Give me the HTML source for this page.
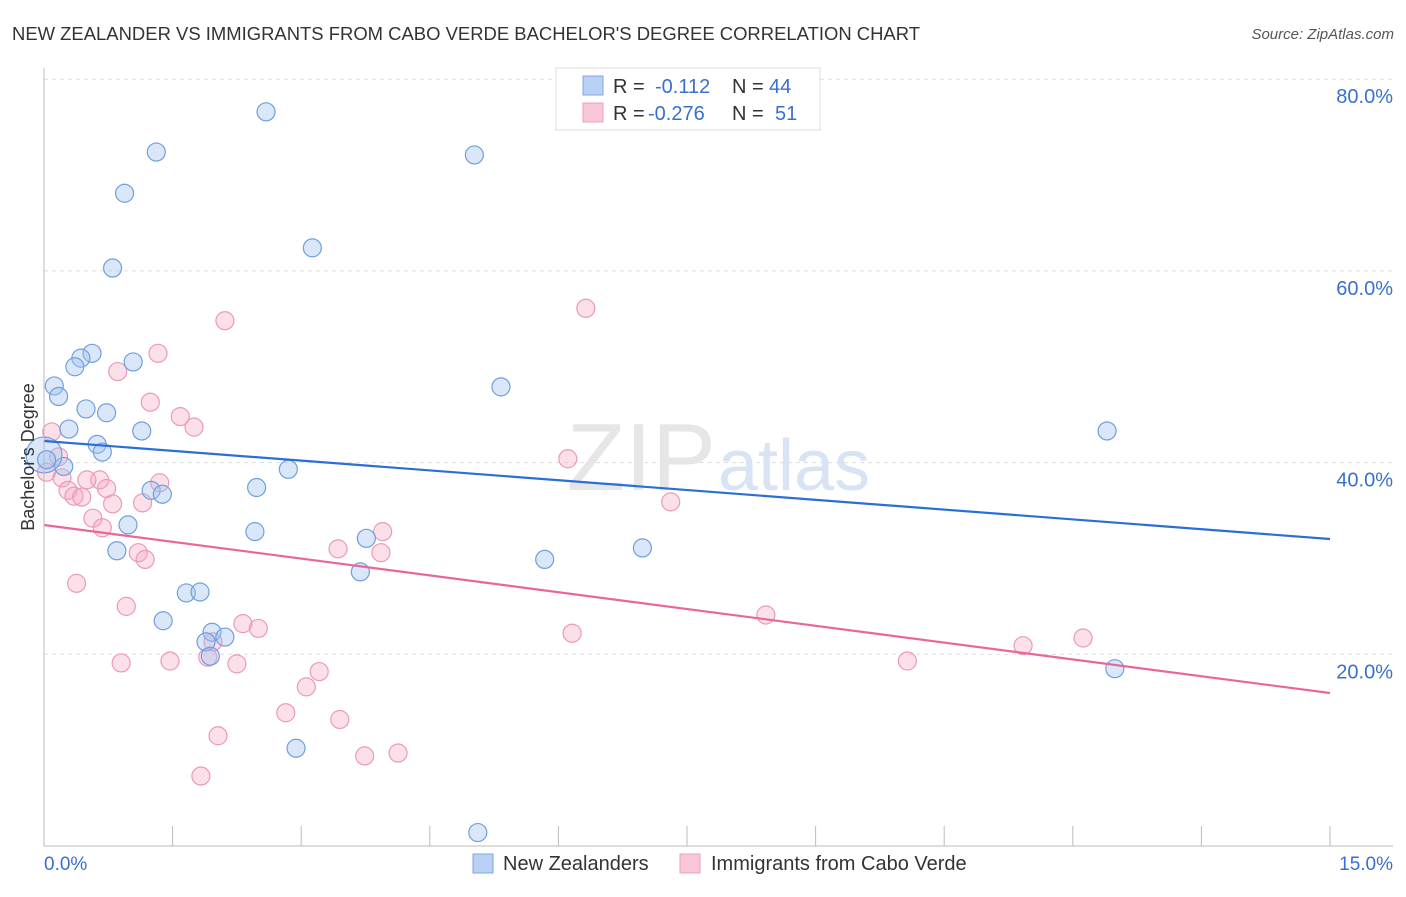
<!DOCTYPE html>
<html><head><meta charset="utf-8"><style>
body{margin:0;background:#fff;font-family:"Liberation Sans",sans-serif}
svg text{font-family:"Liberation Sans",sans-serif}
</style></head><body>
<svg width="1406" height="892" xmlns="http://www.w3.org/2000/svg">
<text x="12" y="40" font-size="18" fill="#333" textLength="908" lengthAdjust="spacingAndGlyphs">NEW ZEALANDER VS IMMIGRANTS FROM CABO VERDE BACHELOR'S DEGREE CORRELATION CHART</text>
<text x="1394" y="39" font-size="15" fill="#555" text-anchor="end" font-style="italic">Source: ZipAtlas.com</text>
<g id="grid"></g>
<text x="716" y="490" font-size="96" fill="#e6e6e6" text-anchor="end" font-family="Liberation Serif">ZIP</text>
<text x="718" y="490" font-size="72" fill="#d8e4f4">atlas</text>
<g id="pts"></g>
<g id="axes"></g>
<text x="34" y="457" font-size="18" fill="#333" text-anchor="middle" transform="rotate(-90 34 457)">Bachelor's Degree</text>
<g>
<rect x="556" y="68" width="264" height="62" fill="#fff" stroke="#ddd"/>
<rect x="583" y="76" width="20" height="19" fill="#b8d1f5" stroke="#7ea6e3"/>
<rect x="583" y="103" width="20" height="19" fill="#f9c6d6" stroke="#eda0b8"/>
<text x="613" y="93" font-size="20" fill="#333">R =</text>
<text x="655" y="93" font-size="20" fill="#3a6fd0">-0.112</text>
<text x="732" y="93" font-size="20" fill="#333">N =</text>
<text x="769" y="93" font-size="20" fill="#3a6fd0">44</text>
<text x="613" y="120" font-size="20" fill="#333">R =</text>
<text x="648" y="120" font-size="20" fill="#3a6fd0">-0.276</text>
<text x="732" y="120" font-size="20" fill="#333">N =</text>
<text x="775" y="120" font-size="20" fill="#3a6fd0">51</text>
</g>
<g>
<rect x="473" y="854" width="20" height="19" fill="#b8d1f5" stroke="#7ea6e3"/>
<text x="503" y="870" font-size="20" fill="#333">New Zealanders</text>
<rect x="680" y="854" width="20" height="19" fill="#f9c6d6" stroke="#eda0b8"/>
<text x="711" y="870" font-size="20" fill="#333">Immigrants from Cabo Verde</text>
</g>
</svg>
<script>
const blueX=[2.59,1.31,5.02,0.94,3.13,0.80,0.56,0.43,1.04,0.36,0.12,0.17,5.33,0.49,0.73,0.29,1.14,12.40,0.62,0.68,0.23,2.85,0.0,2.48,1.25,1.38,0.98,2.46,3.76,0.85,6.98,5.84,3.69,1.66,1.82,1.39,1.96,1.89,2.11,1.94,12.49,2.94,5.06,0.03];
const blueY=[76.6,72.4,72.1,68.1,62.4,60.3,51.4,50.9,50.5,50.0,48.0,46.9,47.9,45.6,45.2,43.5,43.3,43.3,41.9,41.1,39.6,39.3,40.8,37.4,37.1,36.7,33.5,32.8,32.1,30.8,31.1,29.9,28.6,26.4,26.5,23.5,22.3,21.3,21.8,19.8,18.5,10.2,1.4,40.3];
const pinkX=[2.11,6.32,1.33,0.86,1.24,1.59,1.75,0.09,0.17,6.11,0.03,0.21,0.65,0.50,1.35,0.73,0.28,0.35,0.44,0.80,1.15,7.31,0.57,0.68,3.95,3.43,3.93,1.10,1.18,0.38,0.96,2.32,2.50,8.42,6.16,12.12,11.42,1.97,0.90,1.47,1.91,2.25,10.07,3.21,3.06,2.82,3.45,2.03,3.74,4.13,1.83];
const pinkY=[54.8,56.1,51.4,49.5,46.3,44.8,43.7,43.2,40.6,40.4,39.0,38.4,38.2,38.2,37.9,37.3,37.1,36.5,36.4,35.7,35.8,35.9,34.2,33.2,32.8,31.0,30.6,30.6,29.9,27.4,25.0,23.2,22.7,24.1,22.2,21.7,20.9,21.3,19.1,19.3,19.7,19.0,19.3,18.2,16.6,13.9,13.2,11.5,9.4,9.7,7.3];
const blueTrend=[42.25,32.03];
const pinkTrend=[33.49,15.96];
const yTicks=[20,40,60,80];
const yTickLabels=["20.0%","40.0%","60.0%","80.0%"];
const xTickVals=[0,1.5,3,4.5,6,7.5,9,10.5,12,13.5,15];
const NS="http://www.w3.org/2000/svg";
const X=v=>44+v/15*1286, Y=v=>846-v/20*191.7;
function mk(t,a,p){const e=document.createElementNS(NS,t);for(const k in a)e.setAttribute(k,a[k]);p.appendChild(e);return e;}
const grid=document.getElementById('grid'),axes=document.getElementById('axes'),pts=document.getElementById('pts');
yTicks.forEach((v,i)=>{
 const l=mk('line',{x1:44,x2:1393,y1:Y(v),y2:Y(v),stroke:'#ddd','stroke-dasharray':'4,4'},grid);
 
 
 const t=mk('text',{x:1393,y:Y(v)+24,'font-size':20,fill:'#3a6fd0','text-anchor':'end'},axes);
 t.textContent=yTickLabels[i];
 
 
});
mk('line',{x1:44,x2:44,y1:68,y2:846,stroke:'#bbb'},axes);
mk('line',{x1:44,x2:1393,y1:846,y2:846,stroke:'#bbb'},axes);
xTickVals.forEach(v=>{const t=mk('line',{x1:X(v),x2:X(v),y1:826,y2:846,stroke:'#bbb'},axes);
 
 });
let a=mk('text',{x:44,y:870,'font-size':19,fill:'#3a6fd0'},axes);a.textContent="0.0%";


a=mk('text',{x:1393,y:870,'font-size':19,fill:'#3a6fd0','text-anchor':'end'},axes);a.textContent="15.0%";


pinkX.forEach((x,i)=>{const c=mk('circle',{cx:X(x),cy:Y(pinkY[i]),r:9,fill:'rgba(245,165,192,0.35)',stroke:'#eb9ab4','stroke-width':1.2},pts);
 
 });
blueX.forEach((x,i)=>{const c=mk('circle',{cx:X(x),cy:Y(blueY[i]),r:(x===0?18:9),fill:'rgba(160,195,240,0.4)',stroke:'#6f9fe0','stroke-width':1.2},pts);
 
 });
let ln=mk('line',{x1:X(0),y1:Y(blueTrend[0]),x2:X(15),y2:Y(blueTrend[1]),stroke:'#2a6fd6','stroke-width':2.2},pts);


ln=mk('line',{x1:X(0),y1:Y(pinkTrend[0]),x2:X(15),y2:Y(pinkTrend[1]),stroke:'#e8679a','stroke-width':2.2},pts);


</script>
</body></html>
